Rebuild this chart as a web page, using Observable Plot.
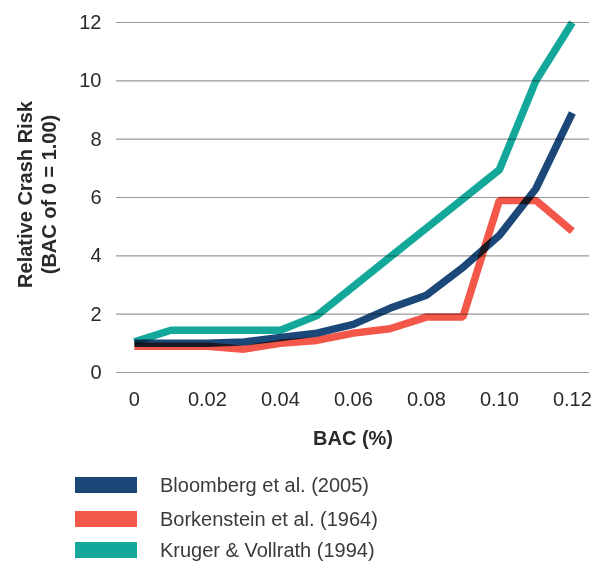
<!DOCTYPE html>
<html>
<head>
<meta charset="utf-8">
<script src="https://cdn.jsdelivr.net/npm/d3@7"></script>
<script src="https://cdn.jsdelivr.net/npm/@observablehq/plot@0.6"></script>
<style>
  body { margin: 0; background: #fff; font-family: "Liberation Sans", Arial, Helvetica, sans-serif; }
  #chart svg { display: block; }
  .legend { position: relative; height: 102px; }
  .row { position: absolute; left: 0; height: 32px; display: flex; align-items: center; }
  .sw { position: absolute; left: 75px; width: 62px; height: 16px; }
  .lab { position: absolute; left: 160px; font-size: 20px; color: #3a3a3a; white-space: nowrap; line-height: 20px; }
</style>
</head>
<body>
<div id="chart"></div>
<div class="legend" id="legend"></div>
<script>
const bac = [0, 0.01, 0.02, 0.03, 0.04, 0.05, 0.06, 0.07, 0.08, 0.09, 0.10, 0.11, 0.12];
const bloomberg = [1.0, 1.0, 1.0, 1.05, 1.2, 1.35, 1.65, 2.2, 2.65, 3.6, 4.7, 6.3, 8.9];
const borkenstein = [0.9, 0.9, 0.9, 0.8, 1.0, 1.1, 1.35, 1.5, 1.9, 1.9, 5.9, 5.9, 4.85];
const kruger = [1.05, 1.45, 1.45, 1.45, 1.45, 1.95, 2.95, 3.95, 4.95, 5.95, 6.95, 10, 12];
const seriesNames = ["Bloomberg et al. (2005)", "Borkenstein et al. (1964)", "Kruger & Vollrath (1994)"];
const seriesColors = ["#1b4878", "#f2574a", "#14a89a"];
const xTicks = [0, 0.02, 0.04, 0.06, 0.08, 0.10, 0.12];
const yTicks = [0, 2, 4, 6, 8, 10, 12];
const xLabel = "BAC (%)";
const yLabel = "Relative Crash Risk\n(BAC of 0 = 1.00)";

const seriesValues = [bloomberg, borkenstein, kruger];
const data = seriesValues.flatMap((vals, s) => vals.map((v, i) => ({x: bac[i], y: v, series: seriesNames[s]})));

const font = '"Liberation Sans", Arial, Helvetica, sans-serif';
const chart = Plot.plot({
  width: 598,
  height: 462,
  marginLeft: 116,
  marginRight: 9,
  marginTop: 22,
  marginBottom: 90,
  style: {fontFamily: font, fontSize: "20px", color: "#2a2a2a", background: "#fff"},
  x: {domain: [-0.0049, 0.1247]},
  y: {domain: [0, 12]},
  color: {domain: seriesNames, range: seriesColors},
  marks: [
    Plot.ruleY(yTicks, {stroke: "#999", strokeWidth: 1.2}),
    Plot.axisY({ticks: yTicks, tickSize: 0, tickPadding: 15, label: null, fontSize: 20}),
    Plot.axisX({ticks: xTicks, tickSize: 0, tickPadding: 19, label: null, fontSize: 20,
      tickFormat: d => d === 0 ? "0" : d.toFixed(2)}),
    Plot.line(data, {x: "x", y: "y", z: "series", stroke: "series", strokeWidth: 7.5,
      strokeLinecap: "butt", strokeLinejoin: "miter", mixBlendMode: "multiply"}),
    Plot.text([xLabel], {frameAnchor: "bottom", text: d => d, dy: 72, fontWeight: "bold", fontSize: 20, fill: "#2a2a2a"}),
    Plot.text([yLabel], {frameAnchor: "left", text: d => d, rotate: -90, dx: -80, dy: -3, lineHeight: 1.2,
      textAnchor: "middle", fontWeight: "bold", fontSize: 20, fill: "#2a2a2a"})
  ]
});
document.getElementById("chart").append(chart);

const legend = document.getElementById("legend");
const rowCenters = [23, 57, 88];
seriesNames.forEach((name, i) => {
  const row = document.createElement("div");
  row.className = "row";
  row.style.top = (rowCenters[i] - 16) + "px";
  row.style.width = "598px";
  const sw = document.createElement("div");
  sw.className = "sw";
  sw.style.background = seriesColors[i];
  sw.style.top = "8px";
  const lab = document.createElement("div");
  lab.className = "lab";
  lab.style.top = "6px";
  lab.textContent = name;
  row.append(sw, lab);
  legend.append(row);
});
</script>
</body>
</html>
